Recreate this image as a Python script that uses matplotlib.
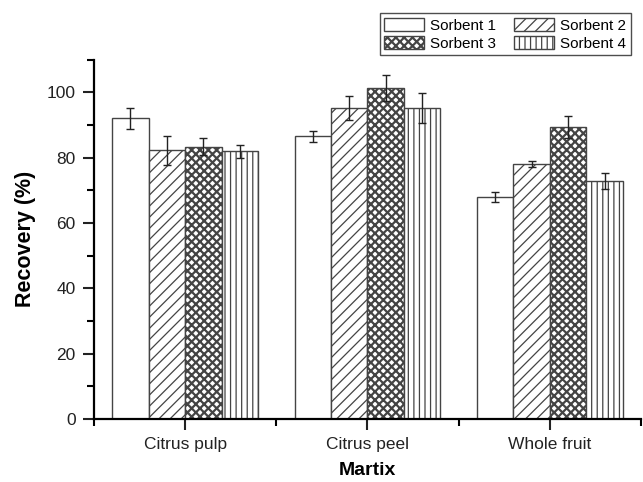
import matplotlib
matplotlib.use("Agg")
import matplotlib.pyplot as plt
import numpy as np
from matplotlib.ticker import MultipleLocator, FixedLocator

plt.rcParams['font.family'] = ['Liberation Sans', 'DejaVu Sans']
plt.rcParams['hatch.linewidth'] = 0.9

categories = ["Citrus pulp", "Citrus peel", "Whole fruit"]
series_names = ["Sorbent 1", "Sorbent 2", "Sorbent 3", "Sorbent 4"]
sorbent1 = [92.0, 86.6, 68.0]
sorbent2 = [82.2, 95.2, 78.0]
sorbent3 = [83.3, 101.3, 89.3]
sorbent4 = [82.0, 95.3, 72.8]
err1 = [3.3, 1.7, 1.6]
err2 = [4.4, 3.7, 1.0]
err3 = [2.6, 4.0, 3.4]
err4 = [2.0, 4.6, 2.4]

values = [sorbent1, sorbent2, sorbent3, sorbent4]
errors = [err1, err2, err3, err4]
hatches = ["", "///", "xxxx", "|||"]
hatch_lw = [0.9, 0.9, 1.6, 0.9]

fig = plt.figure(figsize=(6.43, 4.82), dpi=100)
ax = fig.add_axes([0.146, 0.1307, 0.851, 0.7456])

x = np.arange(len(categories)) + 0.5
width = 0.2
handles = []
for i, (vals, errs, h, name) in enumerate(zip(values, errors, hatches, series_names)):
    pos = x + (i - 1.5) * width
    with plt.rc_context({'hatch.linewidth': hatch_lw[i]}):
        b = ax.bar(pos, vals, width, color="white", edgecolor="#444444", hatch=h,
                   linewidth=1.0, label=name, zorder=2)
    handles.append(b)
    ax.errorbar(pos, vals, yerr=errs, fmt="none", ecolor="#222222",
                elinewidth=1.0, capsize=3, capthick=1.0, zorder=3)

ax.set_xlim(0, 3)
ax.set_ylim(0, 110)
ax.spines['top'].set_visible(False)
ax.spines['right'].set_visible(False)
ax.spines['left'].set_linewidth(1.6)
ax.spines['bottom'].set_linewidth(1.6)

ax.yaxis.set_major_locator(MultipleLocator(20))
ax.yaxis.set_minor_locator(MultipleLocator(10))
ax.xaxis.set_major_locator(FixedLocator(x))
ax.xaxis.set_minor_locator(FixedLocator([0, 1, 2, 3]))
ax.set_xticklabels(categories)
ax.tick_params(axis='both', which='major', direction='out', length=8, width=1.5,
               labelsize=12.5, colors='#222222')
ax.tick_params(axis='both', which='minor', direction='out', length=5, width=1.5)
ax.tick_params(axis='x', which='major', pad=5)
ax.tick_params(axis='y', which='major', pad=5)

ax.set_ylabel("Recovery (%)", fontsize=15.5, fontweight='bold', labelpad=8)
ax.set_xlabel("Martix", fontsize=14, fontweight='bold', labelpad=7)

order = [0, 2, 1, 3]
leg = ax.legend([handles[k] for k in order], [series_names[k] for k in order],
                ncol=2, loc='upper right', bbox_to_anchor=(0.981, 0.973),
                bbox_transform=fig.transFigure, borderaxespad=0, fontsize=11,
                handlelength=2.6, handleheight=1.0, handletextpad=0.4,
                columnspacing=1.2, labelspacing=0.2, borderpad=0.3,
                fancybox=False, frameon=True, edgecolor='#222222')
leg.get_frame().set_linewidth(1.0)
for patch, k in zip(leg.get_patches(), order):
    if hasattr(patch, 'set_hatch_linewidth'):
        patch.set_hatch_linewidth(hatch_lw[k])

fig.savefig("out.png", dpi=100)
